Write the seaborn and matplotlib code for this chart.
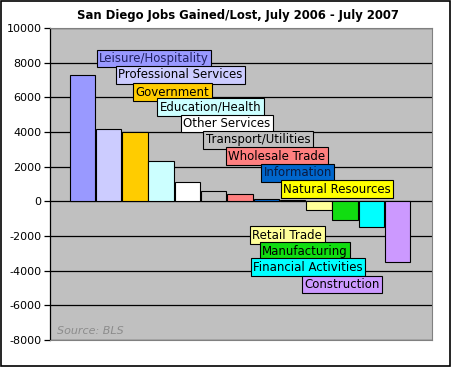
import matplotlib
matplotlib.use("Agg")
import matplotlib.pyplot as plt
import seaborn as sns
import pandas as pd
from matplotlib.patches import Rectangle

categories = ["Leisure/Hospitality", "Professional Services", "Government",
              "Education/Health", "Other Services", "Transport/Utilities",
              "Wholesale Trade", "Information", "Natural Resources",
              "Retail Trade", "Manufacturing", "Financial Activities",
              "Construction"]
values = [7300, 4150, 4000, 2350, 1100, 600, 450, 150, 50,
          -500, -1100, -1500, -3500]
colors = ["#9999FF", "#CCCCFF", "#FFCC00", "#CCFFFF", "#FFFFFF", "#C0C0C0",
          "#FF8080", "#0066CC", "#FFFF00", "#FFFF99", "#11DD11", "#00FFFF",
          "#CC99FF"]
y_ticks = [-8000, -6000, -4000, -2000, 0, 2000, 4000, 6000, 8000, 10000]

# label layout (box left x in category units, centre y in data units)
label_x = [0.64, 1.37, 2.03, 2.94, 3.83, 4.69, 5.55, 6.90, 7.64,
           6.47, 6.85, 6.50, 8.44]
label_y = [8240, 7305, 6307, 5441, 4489, 3554, 2614, 1650, 710,
           -1945, -2868, -3791, -4800]
label_text_colors = ["#202060", "black", "black", "black", "black", "black",
                     "black", "#0a1a40", "black", "black", "black", "black",
                     "black"]

df = pd.DataFrame({"category": categories, "value": values})

sns.set_style("white")
plt.rcParams["font.family"] = ["DejaVu Sans"]

fig = plt.figure(figsize=(4.52, 3.67), dpi=100)
fig.patch.set_facecolor("white")
ax = fig.add_axes([50 / 452, 27 / 367, 382 / 452, 312 / 367])
ax.set_facecolor("#C0C0C0")

sns.barplot(data=df, x="category", y="value", hue="category",
            palette=colors, legend=False, width=0.97, edgecolor="black",
            linewidth=0.8, ax=ax, zorder=3, saturation=1)

ax.set_xlim(-1.234, 13.31)
ax.set_ylim(-8000, 10000)
ax.set_yticks(y_ticks)
ax.set_yticklabels([str(t) for t in y_ticks], fontsize=8, color="black")
ax.set_xticks([])
ax.set_xlabel("")
ax.set_ylabel("")
ax.yaxis.grid(True, color="black", linewidth=0.9, zorder=1)
ax.set_axisbelow(True)
ax.tick_params(axis="y", direction="out", length=4, width=0.9, color="black",
               left=True, pad=2)

for side in ["top", "right", "bottom"]:
    ax.spines[side].set_color("#808080")
    ax.spines[side].set_linewidth(0.8)
ax.spines["left"].set_color("black")
ax.spines["left"].set_linewidth(0.9)

for name, x, y, c, tc in zip(categories, label_x, label_y, colors, label_text_colors):
    ax.text(x, y, name, ha="left", va="center", fontsize=8.5, color=tc,
            zorder=5,
            bbox=dict(boxstyle="square,pad=0.2", fc=c, ec="black", lw=0.8))

ax.text(0.018, 0.012, "Source: BLS", transform=ax.transAxes, fontsize=8,
        style="italic", color="#8c8c8c", ha="left", va="bottom")

fig.text(238 / 452, 1 - 15 / 367, "San Diego Jobs Gained/Lost, July 2006 - July 2007",
         ha="center", va="center", fontsize=8.4, fontweight="bold", color="black")

fig.patches.append(Rectangle((0.002, 0.003), 0.994, 0.994, transform=fig.transFigure,
                             fill=False, ec="black", lw=1.2))

fig.savefig("out.png", dpi=100, facecolor="white")
